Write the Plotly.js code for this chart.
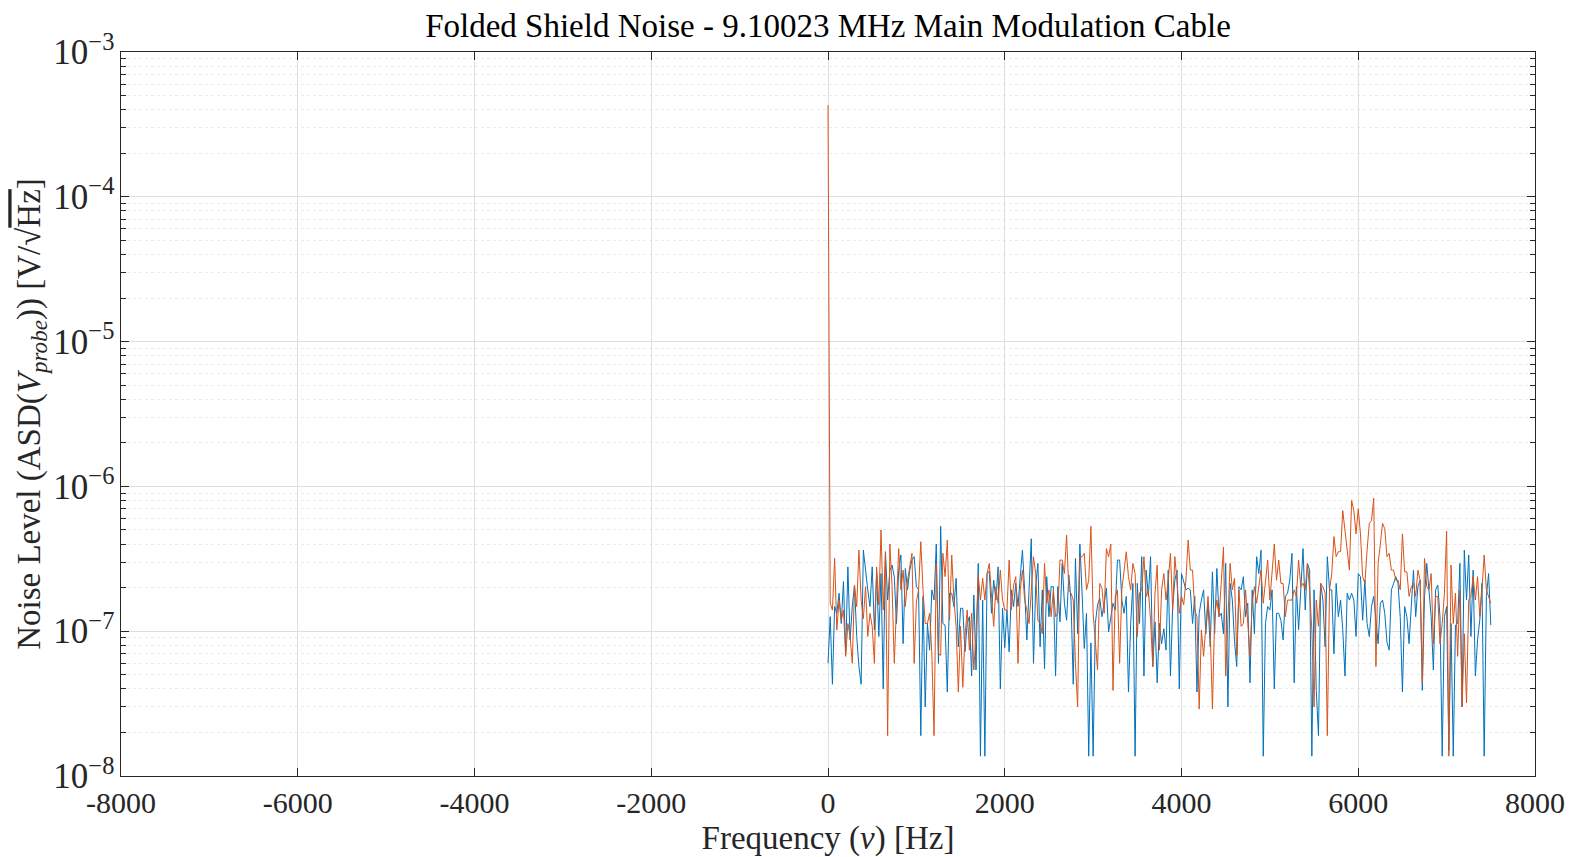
<!DOCTYPE html>
<html>
<head>
<meta charset="utf-8">
<script src="https://cdn.plot.ly/plotly-3.0.1.min.js"></script>
<style>
  html, body { margin: 0; padding: 0; background: #ffffff; }
  #chart { width: 1572px; height: 857px; }
</style>
</head>
<body>
<div id="chart"></div>
<script>
// Frequency grid (Hz): samples every 25 Hz from 0 to 7500 Hz
const FREQ_STEP = 25;
// Values are in units of 1e-7 V/sqrt(Hz)
const UNIT = 1e-7;

// Blue series (first trace)
const seriesBlue = [
  0.60,1.26,0.43,1.48,1.33,1.83,1.13,2.2,0.70,2.78,0.87,1.48,
  2.08,0.92,0.57,0.43,3.63,2.5,1.93,1.48,2.78,1.02,2.5,0.92,
  2.5,0.40,3.54,1.64,2.64,2.86,2.38,1.13,2.64,3.36,0.82,2.71,
  1.93,2.64,3.1,3.27,2.03,1.93,0.19,1.74,0.30,1.13,0.74,1.93,
  1.64,4.0,0.60,5.3,1.13,1.10,0.38,1.83,1.83,1.48,2.32,0.78,
  1.44,1.44,0.72,1.13,1.26,0.49,1.78,0.54,2.94,0.137,1.64,0.137,
  2.5,2.6,1.33,2.25,1.64,2.78,0.40,1.44,0.77,1.40,0.72,1.93,
  1.48,2.14,1.48,2.38,3.63,1.93,0.87,1.93,4.35,0.60,2.03,2.94,
  0.78,1.93,0.55,2.38,
  1.26,2.03,2.03,0.49,2.03,1.16,2.94,1.56,1.19,2.45,1.64,0.43,
  3.18,0.96,4.0,1.83,0.76,1.33,0.137,0.83,0.137,1.13,1.52,1.69,
  1.26,1.56,1.98,0.99,1.26,1.56,1.40,3.1,3.1,1.64,1.33,1.74,
  0.38,1.13,2.14,0.137,2.14,1.13,3.27,0.49,2.64,1.74,3.27,0.57,
  1.16,0.44,1.13,0.82,
  1.04,0.74,2.64,0.49,1.48,2.25,2.64,0.40,2.5,2.14,1.93,1.98,
  1.93,1.13,1.74,0.38,1.33,1.64,1.93,0.96,1.56,0.78,2.57,0.96,
  2.71,1.26,1.33,0.96,2.94,0.30,2.14,1.64,0.85,0.57,2.03,1.93,
  2.38,1.26,1.56,0.44,1.93,0.96,3.27,2.5,3.63,0.137,1.13,1.48,
  1.40,1.93,0.40,1.33,
  1.33,1.19,0.87,1.74,1.83,2.25,3.45,0.44,2.03,1.02,1.93,3.72,
  1.40,2.94,2.64,0.137,1.93,0.39,0.19,2.14,1.64,0.78,3.27,1.93,
  1.93,0.70,2.14,1.26,1.64,1.02,0.49,1.83,1.64,1.83,1.64,0.92,
  2.5,2.38,1.19,2.25,1.13,0.92,1.48,1.74,1.19,0.82,1.56,1.64,
  1.33,0.84,0.74,1.93,
  2.14,2.38,2.14,1.26,0.38,1.48,1.26,0.82,1.48,2.64,1.26,2.03,
  2.25,0.39,1.74,2.94,1.93,1.26,0.54,1.93,2.08,1.26,0.137,1.26,
  1.48,0.15,1.13,0.137,1.10,1.13,2.94,0.30,3.63,1.64,3.36,0.92,
  2.64,0.49,0.87,1.19,2.14,0.137,1.74,2.5,1.10
];

// Orange series (second trace), starts with the large DC spike
const seriesOrange = [
  4300,1.56,1.40,3.18,1.02,1.64,1.19,1.40,0.67,1.13,0.92,0.60,
  2.08,1.48,3.63,1.64,1.22,2.03,0.92,1.33,1.08,0.60,2.78,1.52,
  5.0,1.40,3.45,0.19,4.0,2.03,0.60,1.64,3.72,1.93,2.64,1.48,
  2.25,2.78,3.45,0.60,1.59,1.93,4.15,1.93,1.13,1.13,1.33,0.70,
  0.19,2.94,0.70,0.68,3.45,2.38,4.26,1.19,3.36,1.64,1.08,0.38,
  1.08,0.41,0.92,1.40,0.74,1.33,0.54,0.96,2.45,1.64,2.32,1.64,
  2.5,2.94,1.74,1.08,2.03,1.56,2.64,1.64,1.40,1.40,3.1,1.40,
  2.08,2.38,0.60,1.93,2.64,1.64,1.40,1.13,1.88,3.27,2.5,1.19,
  1.13,0.96,2.94,1.56,
  1.93,1.26,1.93,1.26,1.33,3.1,3.1,2.5,4.6,1.93,1.83,1.64,
  0.60,0.30,3.27,3.27,3.45,1.93,2.25,5.3,1.33,0.82,0.54,2.14,
  1.98,1.33,3.72,3.27,4.0,0.39,1.74,1.93,0.60,1.93,2.57,3.54,
  2.38,1.93,2.94,2.5,0.92,1.83,1.93,3.27,1.74,1.93,1.19,0.57,
  1.83,2.86,0.74,1.93,
  2.5,1.64,2.25,3.45,1.40,3.27,2.14,1.33,1.74,1.52,2.25,4.26,
  2.64,2.64,1.40,1.26,0.29,1.02,0.67,1.02,1.74,1.02,0.29,1.26,
  1.64,1.26,2.38,3.8,0.49,1.13,2.94,1.93,2.32,0.68,1.93,1.08,
  1.13,1.93,1.13,0.67,1.56,2.03,1.56,2.03,2.64,1.56,2.14,3.1,
  1.64,2.5,4.0,2.25,
  3.1,2.14,2.14,1.26,1.64,1.64,1.64,1.93,1.74,3.1,2.03,2.14,
  1.93,2.94,1.93,1.02,0.30,1.64,1.08,2.14,2.03,1.83,0.19,1.93,
  2.5,4.5,3.27,3.54,3.54,6.8,4.7,3.63,2.64,8.0,6.8,4.7,
  7.0,4.7,2.38,2.14,3.63,5.56,5.8,8.3,0.57,2.94,4.0,5.56,
  5.1,3.27,3.45,2.64,
  2.64,2.25,2.25,1.93,4.7,2.57,2.57,1.74,2.03,2.14,1.74,2.64,
  2.25,0.44,3.18,2.03,1.93,2.5,0.82,1.74,1.74,0.82,1.13,1.83,
  4.9,0.137,2.86,1.13,1.83,0.67,1.93,0.30,0.96,0.32,1.64,1.74,
  2.38,1.64,2.38,1.26,1.93,3.36,1.93,1.74,1.56
];

const xTickVals = [-8000,-6000,-4000,-2000,0,2000,4000,6000,8000];
const xTickText = ['-8000','-6000','-4000','-2000','0','2000','4000','6000','8000'];

const titleText = 'Folded Shield Noise - 9.10023 MHz Main Modulation Cable';
const xTitleText = 'Frequency (<i>ν</i>) [Hz]';
const yTitleText = 'Noise Level (ASD(<i>V</i><sub><i>probe</i></sub>)) [V/√<span style="text-decoration:overline">Hz</span>]';

const freqBlue = seriesBlue.map((_, i) => i * FREQ_STEP);
const freqOrange = seriesOrange.map((_, i) => i * FREQ_STEP);

const FONT = 'Liberation Serif';
const AXC = '#262626';

const traces = [
  { x: freqBlue, y: seriesBlue.map(v => v * UNIT), type: 'scatter', mode: 'lines',
    line: { color: '#0072BD', width: 1 }, showlegend: false, hoverinfo: 'x+y' },
  { x: freqOrange, y: seriesOrange.map(v => v * UNIT), type: 'scatter', mode: 'lines',
    line: { color: '#D95319', width: 1 }, showlegend: false, hoverinfo: 'x+y' }
];

const layout = {
  width: 1572, height: 857,
  paper_bgcolor: '#ffffff', plot_bgcolor: '#ffffff',
  margin: { l: 121, r: 37, t: 52, b: 81, pad: 0 },
  font: { family: FONT, color: AXC, size: 30 },
  title: { text: titleText, font: { family: FONT, size: 33, color: '#000000' },
           x: 0.5, xref: 'paper', xanchor: 'center', y: 1 - 25/857, yref: 'container', yanchor: 'middle' },
  showlegend: false,
  xaxis: {
    range: [-8000, 8000], tickmode: 'array', tickvals: xTickVals, ticktext: xTickText,
    ticks: 'inside', ticklen: 8, tickcolor: AXC, tickwidth: 1,
    showline: true, linecolor: AXC, linewidth: 1, mirror: 'ticks',
    showgrid: true, gridcolor: '#dedede', gridwidth: 1, zeroline: false,
    tickfont: { family: FONT, size: 30, color: AXC },
    title: { text: xTitleText, font: { family: FONT, size: 33, color: AXC }, standoff: 10 },
    automargin: false
  },
  yaxis: {
    type: 'log', range: [-8, -3], dtick: 1, exponentformat: 'power',
    ticks: 'inside', ticklen: 8, tickcolor: AXC, tickwidth: 1,
    showline: true, linecolor: AXC, linewidth: 1, mirror: 'ticks',
    showgrid: true, gridcolor: '#dedede', gridwidth: 1, zeroline: false,
    minor: { ticks: 'inside', ticklen: 5, tickcolor: AXC, dtick: 'D1', showgrid: true, gridcolor: '#ebebeb', griddash: 'dot', gridwidth: 1 },
    tickfont: { family: FONT, size: 28, color: AXC },
    title: { text: yTitleText, font: { family: FONT, size: 33, color: AXC }, standoff: 2 },
    automargin: false
  }
};

Plotly.newPlot('chart', traces, layout, { staticPlot: true, displayModeBar: false });
</script>
</body>
</html>
